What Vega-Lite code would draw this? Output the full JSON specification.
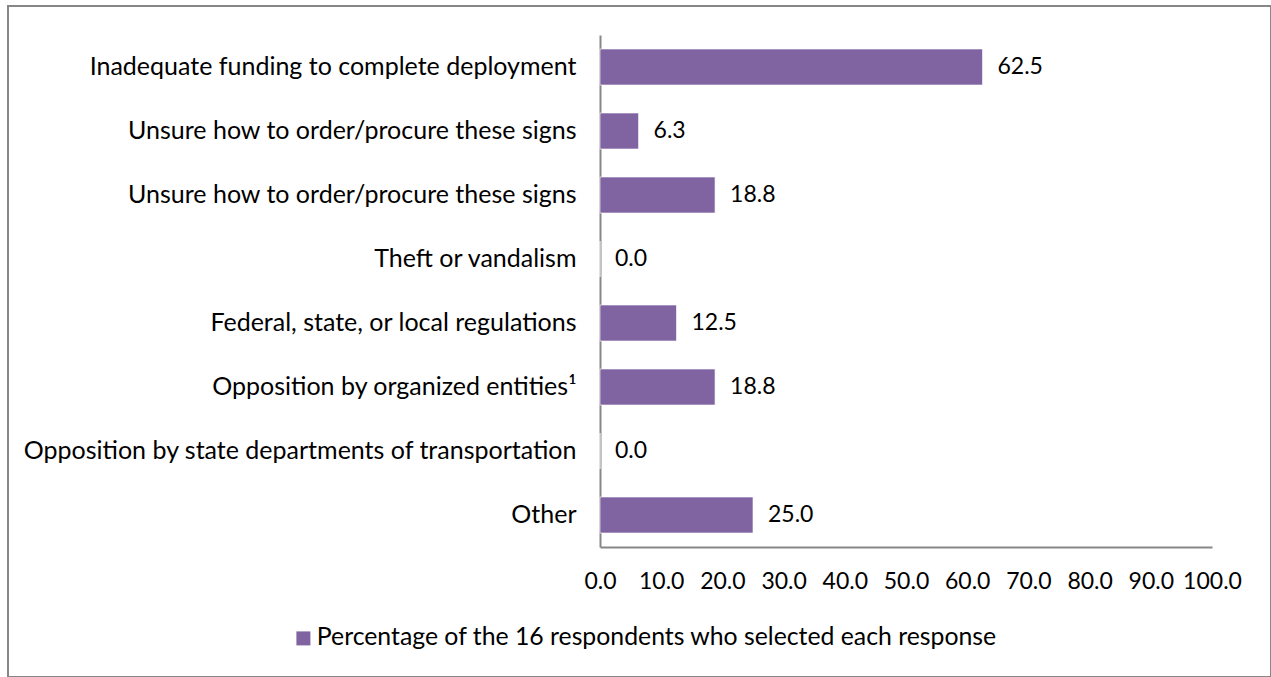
{
  "$schema": "https://vega.github.io/schema/vega-lite/v6.json",
  "autosize": "none",
  "padding": {"left": 8, "top": 6, "right": 0, "bottom": 0},
  "width": 1263,
  "height": 671,
  "background": "white",
  "config": {
    "view": {"stroke": "#878787", "strokeWidth": 2},
    "font": "Lato"
  },
  "data": {
    "values": [
      {"cause": "Inadequate funding to complete deployment", "pct": 62.5, "series": "Percentage of the 16 respondents who selected each response"},
      {"cause": "Unsure how to order/procure these signs", "pct": 6.3, "series": "Percentage of the 16 respondents who selected each response"},
      {"cause": "Unsure how to order/procure these signs ", "pct": 18.8, "series": "Percentage of the 16 respondents who selected each response"},
      {"cause": "Theft or vandalism", "pct": 0.0, "series": "Percentage of the 16 respondents who selected each response"},
      {"cause": "Federal, state, or local regulations", "pct": 12.5, "series": "Percentage of the 16 respondents who selected each response"},
      {"cause": "Opposition by organized entities¹", "pct": 18.8, "series": "Percentage of the 16 respondents who selected each response"},
      {"cause": "Opposition by state departments of transportation", "pct": 0.0, "series": "Percentage of the 16 respondents who selected each response"},
      {"cause": "Other", "pct": 25.0, "series": "Percentage of the 16 respondents who selected each response"}
    ]
  },
  "encoding": {
    "y": {
      "field": "cause",
      "type": "nominal",
      "sort": null,
      "title": null,
      "scale": {"range": [29, 541], "paddingInner": 0.4375, "paddingOuter": 0.21875},
      "axis": {
        "offset": -592,
        "ticks": false,
        "domainColor": "#878787",
        "domainWidth": 2,
        "labelFontSize": 25,
        "labelColor": "#000000",
        "labelFont": "Lato",
        "labelPadding": 24,
        "labelLimit": 700
      }
    },
    "x": {
      "field": "pct",
      "type": "quantitative",
      "title": null,
      "scale": {"domain": [0, 100], "range": [592, 1204], "nice": false},
      "axis": {
        "offset": -130,
        "values": [0, 10, 20, 30, 40, 50, 60, 70, 80, 90, 100],
        "format": ".1f",
        "grid": false,
        "ticks": false,
        "domainColor": "#878787",
        "domainWidth": 2,
        "labelFontSize": 23,
        "labelColor": "#000000",
        "labelFont": "Lato",
        "labelPadding": 23,
        "labelFlush": false,
        "labelOverlap": false
      }
    }
  },
  "layer": [
    {
      "mark": {"type": "bar", "stroke": "#ffffff", "strokeWidth": 1, "strokeOpacity": 0.6},
      "encoding": {
        "color": {
          "field": "series",
          "type": "nominal",
          "scale": {"range": ["#8064A2"]},
          "legend": {
            "title": null,
            "orient": "none",
            "legendX": 283,
            "legendY": 620,
            "symbolType": "square",
            "symbolSize": 196,
            "symbolStrokeWidth": 0,
            "labelFontSize": 24.8,
            "labelFont": "Lato",
            "labelColor": "#000000",
            "labelOffset": 1,
            "labelLimit": 900
          }
        }
      }
    },
    {
      "mark": {"type": "text", "align": "left", "baseline": "middle", "dx": 15, "fontSize": 23, "font": "Lato", "color": "#000000"},
      "encoding": {
        "text": {"field": "pct", "type": "quantitative", "format": ".1f"}
      }
    }
  ]
}
